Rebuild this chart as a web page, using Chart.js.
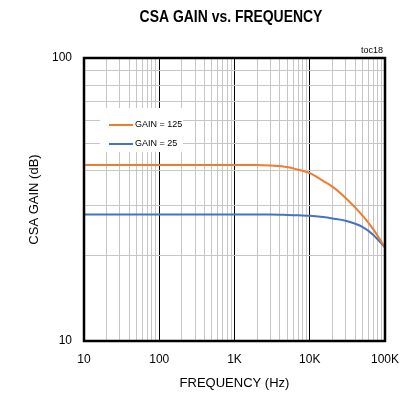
<!DOCTYPE html>
<html>
<head>
<meta charset="utf-8">
<script src="https://cdn.jsdelivr.net/npm/chart.js@4.4.0/dist/chart.umd.min.js"></script>
<style>
  html, body { margin: 0; padding: 0; background: #fff; }
  #chart { display: block; }
</style>
</head>
<body>
<canvas id="chart" width="403" height="407"></canvas>
<script>
// Values
const frequencies = [10, 100, 1000, 2000, 3000, 5000, 7000, 10000, 15000, 20000, 30000, 50000, 70000, 100000];
const gain125 = [41.9, 41.9, 41.9, 41.9, 41.7, 41.2, 40.3, 39.2, 36.8, 35.1, 32.0, 27.8, 24.8, 21.4];
const gain25 = [28.0, 28.0, 28.0, 28.0, 28.0, 27.9, 27.8, 27.7, 27.4, 27.1, 26.6, 25.3, 23.7, 21.4];

const decadeValues = [10, 100, 1000, 10000, 100000];
const decadeLabels = ['10', '100', '1K', '10K', '100K'];
const yLabelValues = [10, 100];
const yLabelTexts = ['10', '100'];

const FONT = '"Liberation Sans", Arial, sans-serif';
const MINOR = '#c6c6c6';

// grid lines at 1..9 x each decade
const xGridValues = [];
decadeValues.slice(0, -1).forEach(d => {
  for (let m = 1; m < 10; m++) xGridValues.push(d * m);
});
xGridValues.push(100000);
const yGridValues = [10, 20, 30, 40, 50, 60, 70, 80, 90, 100];

function isDecade(v) {
  const l = Math.log10(v);
  return Math.abs(l - Math.round(l)) < 1e-9;
}

function toPoints(ys) {
  return frequencies.map((f, i) => ({ x: f, y: ys[i] }));
}

// Title, note, frame and inset legend
const decorations = {
  id: 'decorations',
  afterDraw(chart) {
    const ctx = chart.ctx;
    const a = chart.chartArea;
    ctx.save();

    // title is a narrow face in the reference, squeeze it
    ctx.save();
    ctx.translate(231, 17);
    ctx.scale(0.82, 1);
    ctx.fillStyle = '#000';
    ctx.textAlign = 'center';
    ctx.textBaseline = 'middle';
    ctx.font = 'bold 17px ' + FONT;
    ctx.fillText('CSA GAIN vs. FREQUENCY', 0, 0);
    ctx.restore();

    ctx.fillStyle = '#000';
    ctx.textBaseline = 'middle';
    ctx.textAlign = 'right';
    ctx.font = '9px ' + FONT;
    ctx.fillText('toc18', a.right - 2, 51);

    ctx.strokeStyle = '#000';
    ctx.lineWidth = 2.5;
    ctx.strokeRect(a.left, a.top, a.right - a.left, a.bottom - a.top);

    // legend box
    ctx.fillStyle = '#fff';
    ctx.fillRect(a.left + 16, a.top + 50, 83, 44);
    ctx.font = '9px ' + FONT;
    ctx.textAlign = 'left';
    chart.data.datasets.forEach((ds, i) => {
      const y = a.top + 67 + i * 19;
      ctx.strokeStyle = ds.borderColor;
      ctx.lineWidth = 2;
      ctx.beginPath();
      ctx.moveTo(a.left + 25, y);
      ctx.lineTo(a.left + 49, y);
      ctx.stroke();
      ctx.fillStyle = '#000';
      ctx.fillText(ds.label, a.left + 51, y);
    });
    ctx.restore();
  }
};

new Chart(document.getElementById('chart'), {
  type: 'line',
  data: {
    datasets: [
      {
        label: 'GAIN = 125',
        data: toPoints(gain125),
        borderColor: '#ed7d31',
        borderWidth: 2,
        pointRadius: 0,
        cubicInterpolationMode: 'monotone'
      },
      {
        label: 'GAIN = 25',
        data: toPoints(gain25),
        borderColor: '#4472c4',
        borderWidth: 2,
        pointRadius: 0,
        cubicInterpolationMode: 'monotone'
      }
    ]
  },
  options: {
    responsive: false,
    animation: false,
    layout: { padding: { top: 58, right: 18, left: 0, bottom: 0 } },
    plugins: {
      legend: { display: false },
      tooltip: { enabled: false }
    },
    scales: {
      x: {
        type: 'logarithmic',
        min: 10,
        max: 100000,
        afterBuildTicks: scale => { scale.ticks = xGridValues.map(v => ({ value: v })); },
        afterFit: scale => {
          scale.height = 66;
          // keep the plot edge fixed, labels may hang over
          scale.paddingLeft = 0;
          scale.paddingRight = 0;
        },
        ticks: {
          autoSkip: false,
          maxRotation: 0,
          padding: 11,
          color: '#000',
          font: { size: 12, family: FONT },
          callback: value => {
            const i = decadeValues.indexOf(value);
            return i >= 0 ? decadeLabels[i] : '';
          }
        },
        grid: {
          drawTicks: false,
          lineWidth: 1,
          color: c => (c.tick && isDecade(c.tick.value) ? '#000' : MINOR)
        },
        border: { display: false },
        title: {
          display: true,
          text: 'FREQUENCY (Hz)',
          color: '#000',
          font: { size: 13, family: FONT },
          padding: { top: 0, bottom: 16 }
        }
      },
      y: {
        type: 'logarithmic',
        min: 10,
        max: 100,
        afterBuildTicks: scale => { scale.ticks = yGridValues.map(v => ({ value: v })); },
        afterFit: scale => {
          scale.width = 84;
          scale.paddingTop = 0;
          scale.paddingBottom = 0;
        },
        ticks: {
          autoSkip: false,
          padding: 12,
          color: '#000',
          font: { size: 12, family: FONT },
          callback: value => {
            const i = yLabelValues.indexOf(value);
            return i >= 0 ? yLabelTexts[i] : '';
          }
        },
        grid: {
          drawTicks: false,
          lineWidth: 1,
          color: MINOR
        },
        border: { display: false },
        title: {
          display: true,
          text: 'CSA GAIN (dB)',
          color: '#000',
          font: { size: 13, family: FONT },
          padding: { top: 27, bottom: 0 }
        }
      }
    }
  },
  plugins: [decorations]
});
</script>
</body>
</html>
